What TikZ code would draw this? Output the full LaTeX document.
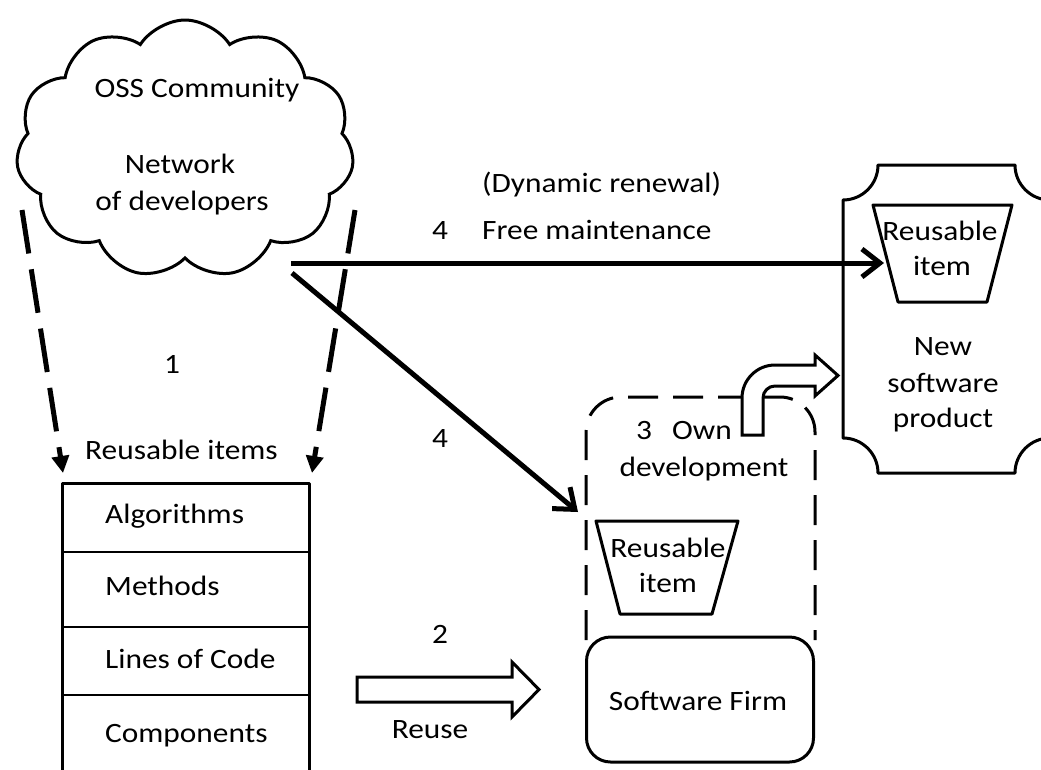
\documentclass[tikz,border=0pt]{standalone}
\usepackage{fontspec}
\setmainfont[FakeStretch=1.12]{Carlito}
\usetikzlibrary{arrows.meta,shapes.symbols}
\tikzset{
  txt/.style={inner sep=0pt, anchor=base},
  ltxt/.style={inner sep=0pt, anchor=base west},
  shapeline/.style={line width=3pt, line join=round},
  divider/.style={line width=2pt},
  dasharrow/.style={line width=5pt, dash pattern=on 44pt off 16pt, -{Triangle[length=17pt,width=17pt]}},
  dashbox/.style={line width=3pt, dash pattern=on 30pt off 15pt},
  mainarrow/.style={line width=5pt, -{Straight Barb[length=18pt,width=28pt]}},
  blockarrow/.style={line width=3pt, fill=white, line join=miter},
}
\begin{document}
\begin{tikzpicture}[x=1pt,y=-1pt,font=\fontsize{28}{36}\selectfont]
\useasboundingbox (0,0) rectangle (1041,769);

% Cloud
\node[cloud, draw, line width=3pt, cloud puffs=11, cloud puff arc=115, aspect=1.3,
      minimum width=338pt, minimum height=258pt, inner sep=0pt] (cloud) at (185,149) {};
\node[txt] (oss) at (197,97) {OSS Community};
\node[txt] (net) at (180,173) {Network};
\node[txt] (dev) at (182,210) {of developers};

% dashed arrows to reusable items
\coordinate (d1s) at (22,210);
\coordinate (d1e) at (63,473);
\coordinate (d2s) at (355,210);
\coordinate (d2e) at (312,473);
\draw[dasharrow] (d1s) -- (d1e);
\draw[dasharrow] (d2s) -- (d2e);
\node[txt] (one) at (172,373) {1};
\node[ltxt] (reitems) at (85,459) {Reusable items};

% table
\coordinate (tbl) at (62,483);
\draw[shapeline] (62,775) -- (tbl) -- (309,483) -- (309,775);
\draw[divider] (62,552) -- (309,552);
\draw[divider] (62,627) -- (309,627);
\draw[divider] (62,695) -- (309,695);
\node[ltxt] (alg) at (105,523) {Algorithms};
\node[ltxt] (meth) at (105,595) {Methods};
\node[ltxt] (loc) at (105,668) {Lines of Code};
\node[ltxt] (comp) at (105,742) {Components};

% Reuse block arrow
\draw[blockarrow] (357,677) -- (512,677) -- (512,662) -- (539,689.5) -- (512,717) -- (512,702) -- (357,702) -- cycle;
\node[txt] (two) at (440,643) {2};
\node[txt] (reuse) at (430,738) {Reuse};

% dashed box (own development)
\draw[dashbox, rounded corners=35pt] (586,640) -- (586,397) -- (815,397) -- (815,640);

% Software firm
\node[draw, line width=3pt, rounded corners=24pt, minimum width=227pt, minimum height=125pt, inner sep=0pt] (firm) at (700,699.5) {};
\node[txt] (firmtxt) at (698,710) {Software Firm};

% Reusable item in dashed box
\draw[shapeline] (596,521) -- (738,521) -- (712,614) -- (620,614) -- cycle;
\node[txt] (ri1) at (668,557) {Reusable};
\node[txt] (ri1b) at (668,592) {item};
\node[txt] (three) at (644,439) {3};
\node[ltxt] (own) at (672,439) {Own};
\node[txt] (devel) at (704,476) {development};

% curved block arrow
\draw[blockarrow] (742,435) -- (742,398) .. controls (742,379.8) and (756.8,365) .. (775,365)
  -- (815,365) -- (815,355) -- (838,375.5) -- (815,396) -- (815,386) -- (775,386)
  .. controls (768.4,386) and (763,391.4) .. (763,398) -- (763,435) -- cycle;

% plaque: new software product
\draw[shapeline] (843,200) -- (843,438) .. controls (862.3,438) and (878,453.7) .. (878,473)
  -- (1015,473) .. controls (1015,453.7) and (1030.7,438) .. (1050,438)
  -- (1050,200) .. controls (1030.7,200) and (1015,184.3) .. (1015,165)
  -- (878,165) .. controls (878,184.3) and (862.3,200) .. (843,200) -- cycle;
\draw[shapeline] (873,205) -- (1012,205) -- (987,302) -- (898,302) -- cycle;
\node[txt] (ri2) at (940,240) {Reusable};
\node[txt] (ri2b) at (942,275) {item};
\node[txt] (new) at (943,355) {New};
\node[txt] (soft) at (943,392) {software};
\node[txt] (prod) at (943,427) {product};

% maintenance arrows
\coordinate (m1s) at (291,263);
\coordinate (m1e) at (884,263);
\coordinate (m2s) at (292,273);
\coordinate (m2e) at (578,512);
\draw[mainarrow] (m1s) -- (m1e);
\draw[mainarrow] (m2s) -- (m2e);
\node[ltxt] (dyn) at (482,192) {(Dynamic renewal)};
\node[txt] (four1) at (440,239) {4};
\node[ltxt] (free) at (482,239) {Free maintenance};
\node[txt] (four2) at (440,447) {4};
\end{tikzpicture}
\end{document}
